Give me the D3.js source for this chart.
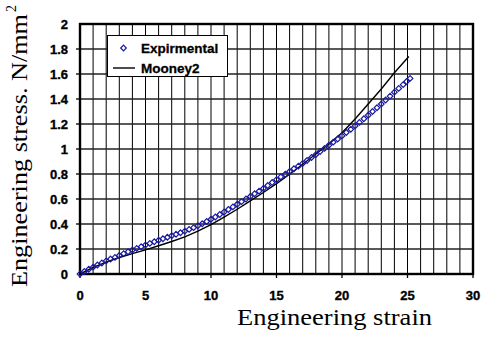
<!DOCTYPE html>
<html>
<head>
  <title>Engineering stress vs strain</title>
  <script src="https://cdn.jsdelivr.net/npm/d3@7"></script>
  <style>
    body { margin: 0; background: #fff; }
    text.tick { font-family: 'Liberation Sans', Arial, sans-serif; font-weight: bold; font-size: 13px; fill: #000; stroke: #000; stroke-width: 0.35; }
    text.title { font-family: 'Liberation Serif', 'Times New Roman', serif; font-size: 23px; fill: #000; }
    text.legend { font-family: 'Liberation Sans', Arial, sans-serif; font-weight: bold; font-size: 13.5px; fill: #000; stroke: #000; stroke-width: 0.3; }
  </style>
</head>
<body>
  <svg id="chart"></svg>
  <script>
    // experimental points (strain, stress N/mm2)
    var expStrain = [0, 0.33, 0.67, 1, 1.33, 1.67, 2, 2.33, 2.67, 3, 3.33, 3.67, 4, 4.33, 4.67, 5,
      5.33, 5.67, 6, 6.33, 6.67, 7, 7.33, 7.67, 8, 8.33, 8.67, 9, 9.33, 9.67, 10,
      10.33, 10.67, 11, 11.33, 11.67, 12, 12.33, 12.67, 13, 13.33, 13.67, 14, 14.33, 14.67, 15,
      15.33, 15.67, 16, 16.33, 16.67, 17, 17.33, 17.67, 18, 18.33, 18.67, 19, 19.33, 19.67, 20,
      20.33, 20.67, 21, 21.33, 21.67, 22, 22.33, 22.67, 23, 23.33, 23.67, 24, 24.33, 24.67, 24.93, 25.2];
    var expStress = [0, 0.02, 0.038, 0.055, 0.072, 0.088, 0.105, 0.12, 0.133, 0.148, 0.163, 0.178, 0.192, 0.205, 0.218, 0.232,
      0.245, 0.258, 0.27, 0.282, 0.294, 0.306, 0.318, 0.33, 0.343, 0.357, 0.371, 0.386, 0.402, 0.42, 0.438,
      0.456, 0.476, 0.496, 0.516, 0.537, 0.558, 0.579, 0.6, 0.62, 0.642, 0.663, 0.685, 0.708, 0.732, 0.755,
      0.777, 0.798, 0.82, 0.842, 0.863, 0.885, 0.908, 0.932, 0.955, 0.98, 1.005, 1.03, 1.055, 1.08, 1.105,
      1.132, 1.158, 1.185, 1.213, 1.242, 1.27, 1.3, 1.33, 1.36, 1.392, 1.423, 1.455, 1.485, 1.515, 1.54, 1.565];

    // Mooney2 fit
    var fitStrain = [0, 1, 2, 3, 4, 5, 6, 7, 8, 9, 10, 11, 12, 13, 14, 15, 16, 17, 18, 19, 20, 21, 22, 23, 24, 25.1];
    var fitStress = [0, 0.052, 0.095, 0.132, 0.163, 0.193, 0.226, 0.26, 0.297, 0.343, 0.395, 0.455, 0.518, 0.585,
      0.652, 0.723, 0.798, 0.878, 0.96, 1.04, 1.13, 1.24, 1.36, 1.48, 1.61, 1.74];

    var xTicks = [0, 5, 10, 15, 20, 25, 30];
    var yTicks = [0, 0.2, 0.4, 0.6, 0.8, 1, 1.2, 1.4, 1.6, 1.8, 2];
    var seriesNames = ['Expirmental', 'Mooney2'];

    var W = 483, H = 337;

    var svg = d3.select('#chart')
      .attr('width', W)
      .attr('height', H);

    var x = d3.scaleLinear()
      .domain([0, 30])
      .range([80, 473]);

    var y = d3.scaleLinear()
      .domain([0, 2])
      .range([274, 24]);

    // grid
    svg.append('g')
      .selectAll('line')
      .data(d3.range(1, 30))
      .enter()
      .append('line')
      .attr('x1', d => x(d))
      .attr('x2', d => x(d))
      .attr('y1', y(0))
      .attr('y2', y(2))
      .attr('stroke', '#000')
      .attr('stroke-width', 1);

    svg.append('g')
      .selectAll('line')
      .data(yTicks.slice(1, -1))
      .enter()
      .append('line')
      .attr('x1', x(0) - 4)
      .attr('x2', x(30))
      .attr('y1', d => y(d))
      .attr('y2', d => y(d))
      .attr('stroke', '#222')
      .attr('stroke-width', 1.3);

    // outer ticks on the x axis
    svg.append('g')
      .selectAll('line')
      .data(xTicks)
      .enter()
      .append('line')
      .attr('x1', d => x(d))
      .attr('x2', d => x(d))
      .attr('y1', y(0))
      .attr('y2', y(0) + 4)
      .attr('stroke', '#000')
      .attr('stroke-width', 1.3);

    // frame
    svg.append('rect')
      .attr('x', x(0))
      .attr('y', y(2))
      .attr('width', x(30) - x(0))
      .attr('height', y(0) - y(2))
      .attr('fill', 'none')
      .attr('stroke', '#000')
      .attr('stroke-width', 2.4);

    // tick labels
    svg.append('g')
      .selectAll('text')
      .data(xTicks)
      .enter()
      .append('text')
      .attr('class', 'tick')
      .attr('x', d => x(d))
      .attr('y', 300)
      .attr('text-anchor', 'middle')
      .text(d => d);

    svg.append('g')
      .selectAll('text')
      .data(yTicks)
      .enter()
      .append('text')
      .attr('class', 'tick')
      .attr('x', 68)
      .attr('y', d => y(d) + 5)
      .attr('text-anchor', 'end')
      .text(d => d);

    // Mooney2 line
    var line = d3.line()
      .x((d, i) => x(fitStrain[i]))
      .y(d => y(d));

    svg.append('path')
      .datum(fitStress)
      .attr('d', line)
      .attr('fill', 'none')
      .attr('stroke', '#000')
      .attr('stroke-width', 1.4);

    // experimental diamonds
    var diamond = d3.symbol().type(d3.symbolDiamond2).size(20);

    svg.append('g')
      .selectAll('path')
      .data(expStress)
      .enter()
      .append('path')
      .attr('d', diamond)
      .attr('transform', (d, i) => 'translate(' + x(expStrain[i]) + ',' + y(d) + ')')
      .attr('fill', 'none')
      .attr('stroke', '#1818a0')
      .attr('stroke-width', 1.2);

    // legend
    var lg = svg.append('g');
    lg.append('rect')
      .attr('x', 107.5)
      .attr('y', 35.5)
      .attr('width', 120)
      .attr('height', 41)
      .attr('fill', '#fff')
      .attr('stroke', '#000')
      .attr('stroke-width', 1);
    lg.append('path')
      .attr('d', diamond)
      .attr('transform', 'translate(123.5,48)')
      .attr('fill', 'none')
      .attr('stroke', '#1818a0')
      .attr('stroke-width', 1.2);
    lg.append('line')
      .attr('x1', 113)
      .attr('x2', 135)
      .attr('y1', 68)
      .attr('y2', 68)
      .attr('stroke', '#000')
      .attr('stroke-width', 1.4);
    lg.selectAll('text.legend')
      .data(seriesNames)
      .enter()
      .append('text')
      .attr('class', 'legend')
      .attr('x', 141)
      .attr('y', (d, i) => 53 + i * 20)
      .text(d => d);

    // axis titles
    svg.append('text')
      .attr('class', 'title')
      .attr('x', 237)
      .attr('y', 325)
      .attr('textLength', 195)
      .attr('lengthAdjust', 'spacingAndGlyphs')
      .text('Engineering strain');

    var yt = svg.append('g')
      .attr('transform', 'translate(27,287) rotate(-90)');
    yt.append('text')
      .attr('class', 'title')
      .attr('x', 0)
      .attr('y', 0)
      .attr('textLength', 273)
      .attr('lengthAdjust', 'spacingAndGlyphs')
      .text('Engineering stress. N/mm');
    yt.append('text')
      .attr('class', 'title')
      .attr('x', 275)
      .attr('y', -11)
      .style('font-size', '14px')
      .text('2');
  </script>
</body>
</html>
